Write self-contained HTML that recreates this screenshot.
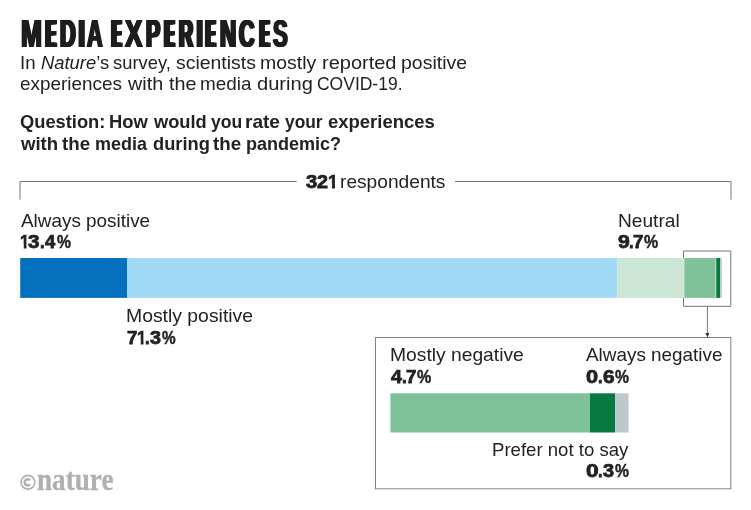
<!DOCTYPE html>
<html>
<head>
<meta charset="utf-8">
<style>
html,body{margin:0;padding:0;background:#fff;}
body{width:751px;height:510px;position:relative;overflow:hidden;font-family:"Liberation Sans",sans-serif;color:#222;}
.t{position:absolute;white-space:nowrap;transform-origin:0 0;line-height:1;}
.b{font-weight:bold;}
.r{position:absolute;}
.tl{position:absolute;top:0;transform-origin:0 0;white-space:nowrap;}
</style>
</head>
<body>
<div id="wrap" style="position:absolute;left:0;top:0;width:751px;height:510px;will-change:transform;opacity:0.999;">
<svg class="r" style="left:0;top:0" width="751" height="510" viewBox="0 0 751 510">
  <g fill="none" stroke="#777" stroke-width="1">
    <path d="M20 199.7 V181.5 H296.7"/>
    <path d="M455 181.5 H731 V199.7"/>
  </g>
  <g fill="none" stroke="#666" stroke-width="0.9">
    <path d="M683.5 258 V251 H730.8 V306.3 H683.5 V298"/>
    <path d="M707.4 306.3 V334"/>
  </g>
  <rect x="375.5" y="337.5" width="355.3" height="151.3" fill="none" stroke="#808080" stroke-width="1"/>
  <path d="M705.4 333 L709.4 333 L707.4 337.4 Z" fill="#333"/>
  <!-- main bar -->
  <rect x="20.2" y="258" width="106.8" height="39.9" fill="#0571be"/>
  <rect x="127" y="258" width="490.2" height="39.9" fill="#a1daf7"/>
  <rect x="617.2" y="258" width="66.7" height="39.9" fill="#cce6d6"/>
  <rect x="684.3" y="258" width="31.3" height="39.9" fill="#7fc29a"/>
  <rect x="716.2" y="258" width="3.9" height="39.9" fill="#067a3e"/>
  <rect x="720.1" y="258" width="1.7" height="39.9" fill="#bcc7cf"/>
  <!-- inset bar -->
  <rect x="390.4" y="393.3" width="199.5" height="39.2" fill="#7fc29a"/>
  <rect x="589.9" y="393.3" width="25.2" height="39.2" fill="#067a3e"/>
  <rect x="615.1" y="393.3" width="13.5" height="39.2" fill="#bcc7cf"/>
</svg>

<div id="title" class="b" style="position:absolute;left:0;top:15.16px;font-size:38.66px;line-height:1;color:#1d1d1b;will-change:transform;opacity:0.999;">
<span class="tl" style="left:20.67px;transform:scaleX(0.6507);text-shadow:0.81px 0 0 #1d1d1b,-0.81px 0 0 #1d1d1b,1.63px 0 0 #1d1d1b,-1.63px 0 0 #1d1d1b">M</span>
<span class="tl" style="left:45.65px;transform:scaleX(0.3824);text-shadow:1.78px 0 0 #1d1d1b,-1.78px 0 0 #1d1d1b,3.57px 0 0 #1d1d1b,-3.57px 0 0 #1d1d1b,5.35px 0 0 #1d1d1b,-5.35px 0 0 #1d1d1b">E</span>
<span class="tl" style="left:60.20px;transform:scaleX(0.5608);text-shadow:1.21px 0 0 #1d1d1b,-1.21px 0 0 #1d1d1b,2.42px 0 0 #1d1d1b,-2.42px 0 0 #1d1d1b">D</span>
<span class="tl" style="left:79.07px;transform:scaleX(0.5000);text-shadow:1.77px 0 0 #1d1d1b,-1.77px 0 0 #1d1d1b,3.55px 0 0 #1d1d1b,-3.55px 0 0 #1d1d1b">I</span>
<span class="tl" style="left:87.45px;transform:scaleX(0.5568);text-shadow:0.96px 0 0 #1d1d1b,-0.96px 0 0 #1d1d1b,1.92px 0 0 #1d1d1b,-1.92px 0 0 #1d1d1b">A</span>
<span class="tl" style="left:112.19px;transform:scaleX(0.3577);text-shadow:1.97px 0 0 #1d1d1b,-1.97px 0 0 #1d1d1b,3.94px 0 0 #1d1d1b,-3.94px 0 0 #1d1d1b,5.91px 0 0 #1d1d1b,-5.91px 0 0 #1d1d1b">E</span>
<span class="tl" style="left:124.66px;transform:scaleX(0.6756);text-shadow:0.77px 0 0 #1d1d1b,-0.77px 0 0 #1d1d1b,1.54px 0 0 #1d1d1b,-1.54px 0 0 #1d1d1b">X</span>
<span class="tl" style="left:145.50px;transform:scaleX(0.5516);text-shadow:1.21px 0 0 #1d1d1b,-1.21px 0 0 #1d1d1b,2.41px 0 0 #1d1d1b,-2.41px 0 0 #1d1d1b">P</span>
<span class="tl" style="left:164.55px;transform:scaleX(0.3454);text-shadow:1.56px 0 0 #1d1d1b,-1.56px 0 0 #1d1d1b,3.11px 0 0 #1d1d1b,-3.11px 0 0 #1d1d1b,4.67px 0 0 #1d1d1b,-4.67px 0 0 #1d1d1b,6.22px 0 0 #1d1d1b,-6.22px 0 0 #1d1d1b">E</span>
<span class="tl" style="left:178.65px;transform:scaleX(0.5047);text-shadow:1.45px 0 0 #1d1d1b,-1.45px 0 0 #1d1d1b,2.89px 0 0 #1d1d1b,-2.89px 0 0 #1d1d1b">R</span>
<span class="tl" style="left:196.52px;transform:scaleX(0.5000);text-shadow:1.72px 0 0 #1d1d1b,-1.72px 0 0 #1d1d1b,3.45px 0 0 #1d1d1b,-3.45px 0 0 #1d1d1b">I</span>
<span class="tl" style="left:206.49px;transform:scaleX(0.3577);text-shadow:1.97px 0 0 #1d1d1b,-1.97px 0 0 #1d1d1b,3.94px 0 0 #1d1d1b,-3.94px 0 0 #1d1d1b,5.91px 0 0 #1d1d1b,-5.91px 0 0 #1d1d1b">E</span>
<span class="tl" style="left:220.25px;transform:scaleX(0.5796);text-shadow:1.17px 0 0 #1d1d1b,-1.17px 0 0 #1d1d1b,2.34px 0 0 #1d1d1b,-2.34px 0 0 #1d1d1b">N</span>
<span class="tl" style="left:239.35px;transform:scaleX(0.5570);text-shadow:1.09px 0 0 #1d1d1b,-1.09px 0 0 #1d1d1b,2.18px 0 0 #1d1d1b,-2.18px 0 0 #1d1d1b">C</span>
<span class="tl" style="left:260.19px;transform:scaleX(0.3577);text-shadow:1.97px 0 0 #1d1d1b,-1.97px 0 0 #1d1d1b,3.94px 0 0 #1d1d1b,-3.94px 0 0 #1d1d1b,5.91px 0 0 #1d1d1b,-5.91px 0 0 #1d1d1b">E</span>
<span class="tl" style="left:272.97px;transform:scaleX(0.5716);text-shadow:0.90px 0 0 #1d1d1b,-0.90px 0 0 #1d1d1b,1.79px 0 0 #1d1d1b,-1.79px 0 0 #1d1d1b">S</span>
</div>
<div class="t" style="left:20.16px;top:54.00px;font-size:18.2px;transform:scaleX(1.0240);">In</div>
<div class="t" style="left:40.64px;top:54.00px;font-size:18.2px;transform:scaleX(1.0106);"><i>Nature</i>’s</div>
<div class="t" style="left:112.64px;top:54.00px;font-size:18.2px;transform:scaleX(1.0091);">survey,</div>
<div class="t" style="left:176.20px;top:54.00px;font-size:18.2px;transform:scaleX(1.0676);">scientists</div>
<div class="t" style="left:259.86px;top:54.00px;font-size:18.2px;transform:scaleX(1.0706);">mostly</div>
<div class="t" style="left:321.83px;top:54.00px;font-size:18.2px;transform:scaleX(1.0992);">reported</div>
<div class="t" style="left:400.93px;top:54.00px;font-size:18.2px;transform:scaleX(1.0711);">positive</div>
<div class="t" style="left:20.22px;top:75.00px;font-size:18.2px;transform:scaleX(1.0388);">experiences</div>
<div class="t" style="left:128.03px;top:75.00px;font-size:18.2px;transform:scaleX(1.0871);">with</div>
<div class="t" style="left:168.63px;top:75.00px;font-size:18.2px;transform:scaleX(1.0845);">the</div>
<div class="t" style="left:200.20px;top:75.00px;font-size:18.2px;transform:scaleX(1.0383);">media</div>
<div class="t" style="left:257.17px;top:75.00px;font-size:18.2px;transform:scaleX(1.1036);">during</div>
<div class="t" style="left:317.14px;top:75.00px;font-size:18.2px;transform:scaleX(0.9612);">COVID-19.</div>
<div class="t b" style="left:20.25px;top:113.00px;font-size:18.2px;transform:scaleX(1.0061);">Question:</div>
<div class="t b" style="left:109.19px;top:113.00px;font-size:18.2px;transform:scaleX(1.0121);">How</div>
<div class="t b" style="left:153.50px;top:113.00px;font-size:18.2px;transform:scaleX(1.0019);">would</div>
<div class="t b" style="left:210.76px;top:113.00px;font-size:18.2px;transform:scaleX(0.9645);">you</div>
<div class="t b" style="left:245.29px;top:113.00px;font-size:18.2px;transform:scaleX(1.0476);">rate</div>
<div class="t b" style="left:285.16px;top:113.00px;font-size:18.2px;transform:scaleX(0.9538);">your</div>
<div class="t b" style="left:327.84px;top:113.00px;font-size:18.2px;transform:scaleX(1.0159);">experiences</div>
<div class="t b" style="left:21.00px;top:135.00px;font-size:18.2px;transform:scaleX(1.0213);">with</div>
<div class="t b" style="left:62.04px;top:135.00px;font-size:18.2px;transform:scaleX(1.0302);">the</div>
<div class="t b" style="left:94.76px;top:135.00px;font-size:18.2px;transform:scaleX(0.9883);">media</div>
<div class="t b" style="left:152.55px;top:135.00px;font-size:18.2px;transform:scaleX(1.0046);">during</div>
<div class="t b" style="left:213.34px;top:135.00px;font-size:18.2px;transform:scaleX(1.0302);">the</div>
<div class="t b" style="left:246.06px;top:135.00px;font-size:18.2px;transform:scaleX(0.9899);">pandemic?</div>
<div class="t b" style="left:306.00px;top:173.00px;font-size:18px;transform:scaleX(1.1179);-webkit-text-stroke:0.75px #222;">3</div>
<div class="t b" style="left:317.43px;top:173.00px;font-size:18px;transform:scaleX(1.0947);-webkit-text-stroke:0.75px #222;">2</div>
<div class="t b" style="left:328.14px;top:173.00px;font-size:18px;transform:scaleX(1.0080);-webkit-text-stroke:0.75px #222;clip-path:polygon(0 0,6.95px 0,6.95px 100%,3.9px 100%,3.9px 11.5px,0 11.5px);">1</div>
<div class="t" style="left:339.98px;top:173.00px;font-size:18.2px;transform:scaleX(1.0534);">respondents</div>
<div class="t" style="left:20.84px;top:212.00px;font-size:18.2px;transform:scaleX(1.0385);">Always positive</div>
<div class="t" style="left:126.40px;top:307.00px;font-size:18.2px;transform:scaleX(1.0650);">Mostly positive</div>
<div class="t" style="left:617.52px;top:212.00px;font-size:18.2px;transform:scaleX(1.0518);">Neutral</div>
<div class="t" style="left:390.21px;top:346.00px;font-size:18.2px;transform:scaleX(1.0589);">Mostly negative</div>
<div class="t" style="left:586.44px;top:346.00px;font-size:18.2px;transform:scaleX(1.0388);">Always negative</div>
<div class="t" style="left:491.67px;top:441.00px;font-size:18.2px;transform:scaleX(1.0216);">Prefer not to say</div>
<div class="t b" style="left:19.68px;top:233.00px;font-size:18px;transform:scaleX(0.9600);-webkit-text-stroke:0.75px #222;clip-path:polygon(0 0,6.95px 0,6.95px 100%,3.9px 100%,3.9px 11.5px,0 11.5px);">1</div>
<div class="t b" style="left:28.00px;top:233.00px;font-size:18px;transform:scaleX(1.1487);-webkit-text-stroke:0.75px #222;">3</div>
<div class="t b" style="left:39.71px;top:233.00px;font-size:18px;transform:scaleX(0.9143);-webkit-text-stroke:0.75px #222;">.</div>
<div class="t b" style="left:45.45px;top:233.00px;font-size:18px;transform:scaleX(1.0190);-webkit-text-stroke:0.75px #222;">4</div>
<div class="t b" style="left:57.28px;top:233.00px;font-size:18px;transform:scaleX(0.8710);-webkit-text-stroke:0.45px #222;">%</div>
<div class="t b" style="left:126.69px;top:329.00px;font-size:18px;transform:scaleX(1.0368);-webkit-text-stroke:0.75px #222;">7</div>
<div class="t b" style="left:136.88px;top:329.00px;font-size:18px;transform:scaleX(0.9600);-webkit-text-stroke:0.75px #222;clip-path:polygon(0 0,6.95px 0,6.95px 100%,3.9px 100%,3.9px 11.5px,0 11.5px);">1</div>
<div class="t b" style="left:144.51px;top:329.00px;font-size:18px;transform:scaleX(0.9143);-webkit-text-stroke:0.75px #222;">.</div>
<div class="t b" style="left:149.60px;top:329.00px;font-size:18px;transform:scaleX(1.0974);-webkit-text-stroke:0.75px #222;">3</div>
<div class="t b" style="left:161.69px;top:329.00px;font-size:18px;transform:scaleX(0.8516);-webkit-text-stroke:0.45px #222;">%</div>
<div class="t b" style="left:617.71px;top:233.00px;font-size:18px;transform:scaleX(1.1789);-webkit-text-stroke:0.75px #222;">9</div>
<div class="t b" style="left:629.01px;top:233.00px;font-size:18px;transform:scaleX(0.9143);-webkit-text-stroke:0.75px #222;">.</div>
<div class="t b" style="left:633.14px;top:233.00px;font-size:18px;transform:scaleX(1.0316);-webkit-text-stroke:0.75px #222;">7</div>
<div class="t b" style="left:643.78px;top:233.00px;font-size:18px;transform:scaleX(0.8839);-webkit-text-stroke:0.45px #222;">%</div>
<div class="t b" style="left:391.02px;top:368.00px;font-size:18px;transform:scaleX(1.0905);-webkit-text-stroke:0.75px #222;">4</div>
<div class="t b" style="left:402.27px;top:368.00px;font-size:18px;transform:scaleX(0.9714);-webkit-text-stroke:0.75px #222;">.</div>
<div class="t b" style="left:406.44px;top:368.00px;font-size:18px;transform:scaleX(1.0421);-webkit-text-stroke:0.75px #222;">7</div>
<div class="t b" style="left:417.18px;top:368.00px;font-size:18px;transform:scaleX(0.8903);-webkit-text-stroke:0.45px #222;">%</div>
<div class="t b" style="left:586.00px;top:368.00px;font-size:18px;transform:scaleX(1.2105);-webkit-text-stroke:0.75px #222;">0</div>
<div class="t b" style="left:598.21px;top:368.00px;font-size:18px;transform:scaleX(0.9143);-webkit-text-stroke:0.75px #222;">.</div>
<div class="t b" style="left:602.91px;top:368.00px;font-size:18px;transform:scaleX(1.1579);-webkit-text-stroke:0.75px #222;">6</div>
<div class="t b" style="left:614.98px;top:368.00px;font-size:18px;transform:scaleX(0.8710);-webkit-text-stroke:0.45px #222;">%</div>
<div class="t b" style="left:585.68px;top:462.00px;font-size:18px;transform:scaleX(1.2632);-webkit-text-stroke:0.75px #222;">0</div>
<div class="t b" style="left:598.11px;top:462.00px;font-size:18px;transform:scaleX(0.9143);-webkit-text-stroke:0.75px #222;">.</div>
<div class="t b" style="left:602.80px;top:462.00px;font-size:18px;transform:scaleX(1.1077);-webkit-text-stroke:0.75px #222;">3</div>
<div class="t b" style="left:614.58px;top:462.00px;font-size:18px;transform:scaleX(0.8710);-webkit-text-stroke:0.45px #222;">%</div>
<svg class="r" style="left:0;top:0" width="130" height="510" viewBox="0 0 130 510">
  <circle cx="27.95" cy="482.25" r="6.85" fill="none" stroke="#b0b0b0" stroke-width="1.6"/>
  <path d="M30.05 480.23 A3.1 3.1 0 1 0 30.05 484.37" fill="none" stroke="#b0b0b0" stroke-width="2.6"/>
</svg>
<div id="logo" class="t b" style="left:36.6px;top:465.3px;font-size:30.6px;font-family:'Liberation Serif',serif;color:#b0b0b0;-webkit-text-stroke:0.3px #b0b0b0;transform:scaleX(0.888);">nature</div>

</div>
</body>
</html>
